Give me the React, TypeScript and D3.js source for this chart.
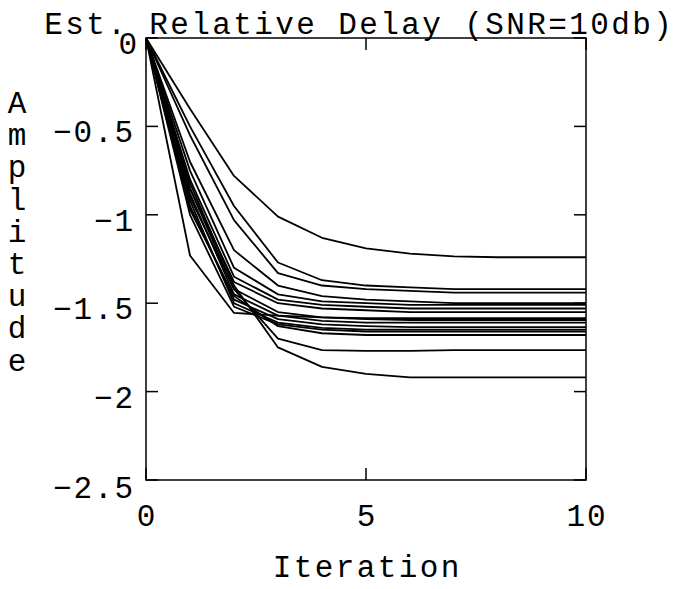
import React from "react";
import * as d3 from "d3";

const iterations = [0, 1, 2, 3, 4, 5, 6, 7, 8, 9, 10];

const s01 = [0, -0.40, -0.78, -1.01, -1.13, -1.19, -1.22, -1.235, -1.24, -1.24, -1.24];
const s02 = [0, -0.50, -0.95, -1.27, -1.37, -1.40, -1.41, -1.42, -1.42, -1.42, -1.42];
const s03 = [0, -0.55, -1.03, -1.33, -1.40, -1.42, -1.43, -1.44, -1.44, -1.44, -1.44];
const s04 = [0, -0.70, -1.20, -1.40, -1.46, -1.48, -1.49, -1.50, -1.50, -1.50, -1.50];
const s05 = [0, -0.75, -1.30, -1.45, -1.49, -1.50, -1.51, -1.51, -1.51, -1.51, -1.51];
const s06 = [0, -0.80, -1.35, -1.48, -1.51, -1.52, -1.53, -1.53, -1.53, -1.53, -1.53];
const s07 = [0, -0.85, -1.38, -1.50, -1.53, -1.54, -1.55, -1.55, -1.55, -1.55, -1.55];
const s08 = [0, -1.23, -1.555, -1.57, -1.58, -1.585, -1.585, -1.585, -1.585, -1.585, -1.585];
const s09 = [0, -0.90, -1.42, -1.55, -1.58, -1.59, -1.595, -1.595, -1.595, -1.595, -1.595];
const s10 = [0, -0.88, -1.45, -1.57, -1.60, -1.61, -1.61, -1.61, -1.61, -1.61, -1.61];
const s11 = [0, -0.95, -1.48, -1.59, -1.62, -1.63, -1.635, -1.635, -1.635, -1.635, -1.635];
const s12 = [0, -0.92, -1.50, -1.61, -1.64, -1.65, -1.65, -1.65, -1.65, -1.65, -1.65];
const s13 = [0, -1.00, -1.52, -1.62, -1.65, -1.66, -1.66, -1.66, -1.66, -1.66, -1.66];
const s14 = [0, -0.97, -1.46, -1.63, -1.67, -1.68, -1.68, -1.68, -1.68, -1.68, -1.68];
const s15 = [0, -0.85, -1.42, -1.70, -1.765, -1.77, -1.77, -1.765, -1.765, -1.765, -1.765];
const s16 = [0, -0.82, -1.40, -1.75, -1.86, -1.90, -1.92, -1.92, -1.92, -1.92, -1.92];

const seriesList = [s01, s02, s03, s04, s05, s06, s07, s08, s09, s10, s11, s12, s13, s14, s15, s16];

const xTicks = [0, 5, 10];
const xTickLabels = ["0", "5", "10"];
const yTicks = [0, -0.5, -1, -1.5, -2, -2.5];
const yTickLabels = ["0", "\u22120.5", "\u22121", "\u22121.5", "\u22122", "\u22122.5"];

const titleText = "Est. Relative Delay (SNR=10db)";
const xLabel = "Iteration";
const yLabel = "Amplitude";

const FONT = "'Liberation Mono', 'DejaVu Sans Mono', monospace";
const FS = 31;
const PITCH = 20.5;

// positions each character in a fixed-pitch cell (typewriter look), one text element
function MonoText(props: {
  text: string;
  x: number;
  y: number;
  pitch?: number;
  anchor?: "start" | "end" | "middle";
}) {
  const p = props.pitch ?? PITCH;
  const n = props.text.length;
  let left = props.x;
  if (props.anchor === "end") left = props.x - n * p;
  if (props.anchor === "middle") left = props.x - (n * p) / 2;
  const xs = props.text
    .split("")
    .map((_, i) => (left + p * i + p / 2).toFixed(1))
    .join(" ");
  return (
    <text
      x={xs}
      y={props.y}
      textAnchor="middle"
      fontFamily={FONT}
      fontSize={FS}
      fill="#000"
      style={{ whiteSpace: "pre" }}
    >
      {props.text}
    </text>
  );
}

export default function App() {
  const W = 681;
  const H = 589;
  const x = d3.scaleLinear().domain([0, 10]).range([146, 586]);
  const y = d3.scaleLinear().domain([0, -2.5]).range([38, 480]);
  const line = d3
    .line<number>()
    .x((_, i) => x(iterations[i]))
    .y((d) => y(d));
  const [x0, x1] = x.range();
  const [y0, y1] = y.range();
  const tickLen = 12;

  return (
    <svg
      width={W}
      height={H}
      style={{ position: "absolute", left: 0, top: 0, background: "#fff" }}
    >
      <rect x={0} y={0} width={W} height={H} fill="#fff" />
      {seriesList.map((s, k) => (
        <path key={k} d={line(s) || ""} fill="none" stroke="#000" strokeWidth={1.8} strokeLinejoin="round" />
      ))}
      <rect x={x0} y={y0} width={x1 - x0} height={y1 - y0} fill="none" stroke="#000" strokeWidth={1.5} />
      {yTicks.map((t, i) => (
        <g key={"yt" + i}>
          <line x1={x0} x2={x0 + tickLen} y1={y(t)} y2={y(t)} stroke="#000" strokeWidth={1.5} />
          <line x1={x1} x2={x1 - tickLen} y1={y(t)} y2={y(t)} stroke="#000" strokeWidth={1.5} />
          <MonoText text={yTickLabels[i]} x={t === 0 ? 138 : 134} y={y(t) + (t === -2.5 ? 18 : 16)} anchor="end" />
        </g>
      ))}
      {xTicks.map((t, i) => (
        <g key={"xt" + i}>
          <line x1={x(t)} x2={x(t)} y1={y1} y2={y1 - tickLen} stroke="#000" strokeWidth={1.5} />
          <line x1={x(t)} x2={x(t)} y1={y0} y2={y0 + tickLen} stroke="#000" strokeWidth={1.5} />
          <MonoText text={xTickLabels[i]} x={x(t)} y={526} anchor="middle" />
        </g>
      ))}
      <MonoText text={titleText} x={43} y={34} pitch={21} />
      <MonoText text={xLabel} x={366} y={577} anchor="middle" pitch={21} />
      {yLabel.split("").map((c, k) => (
        <text
          key={"yl" + k}
          x={17}
          y={113 + 32.2 * k}
          textAnchor="middle"
          fontFamily={FONT}
          fontSize={FS}
          fill="#000"
        >
          {c}
        </text>
      ))}
    </svg>
  );
}
